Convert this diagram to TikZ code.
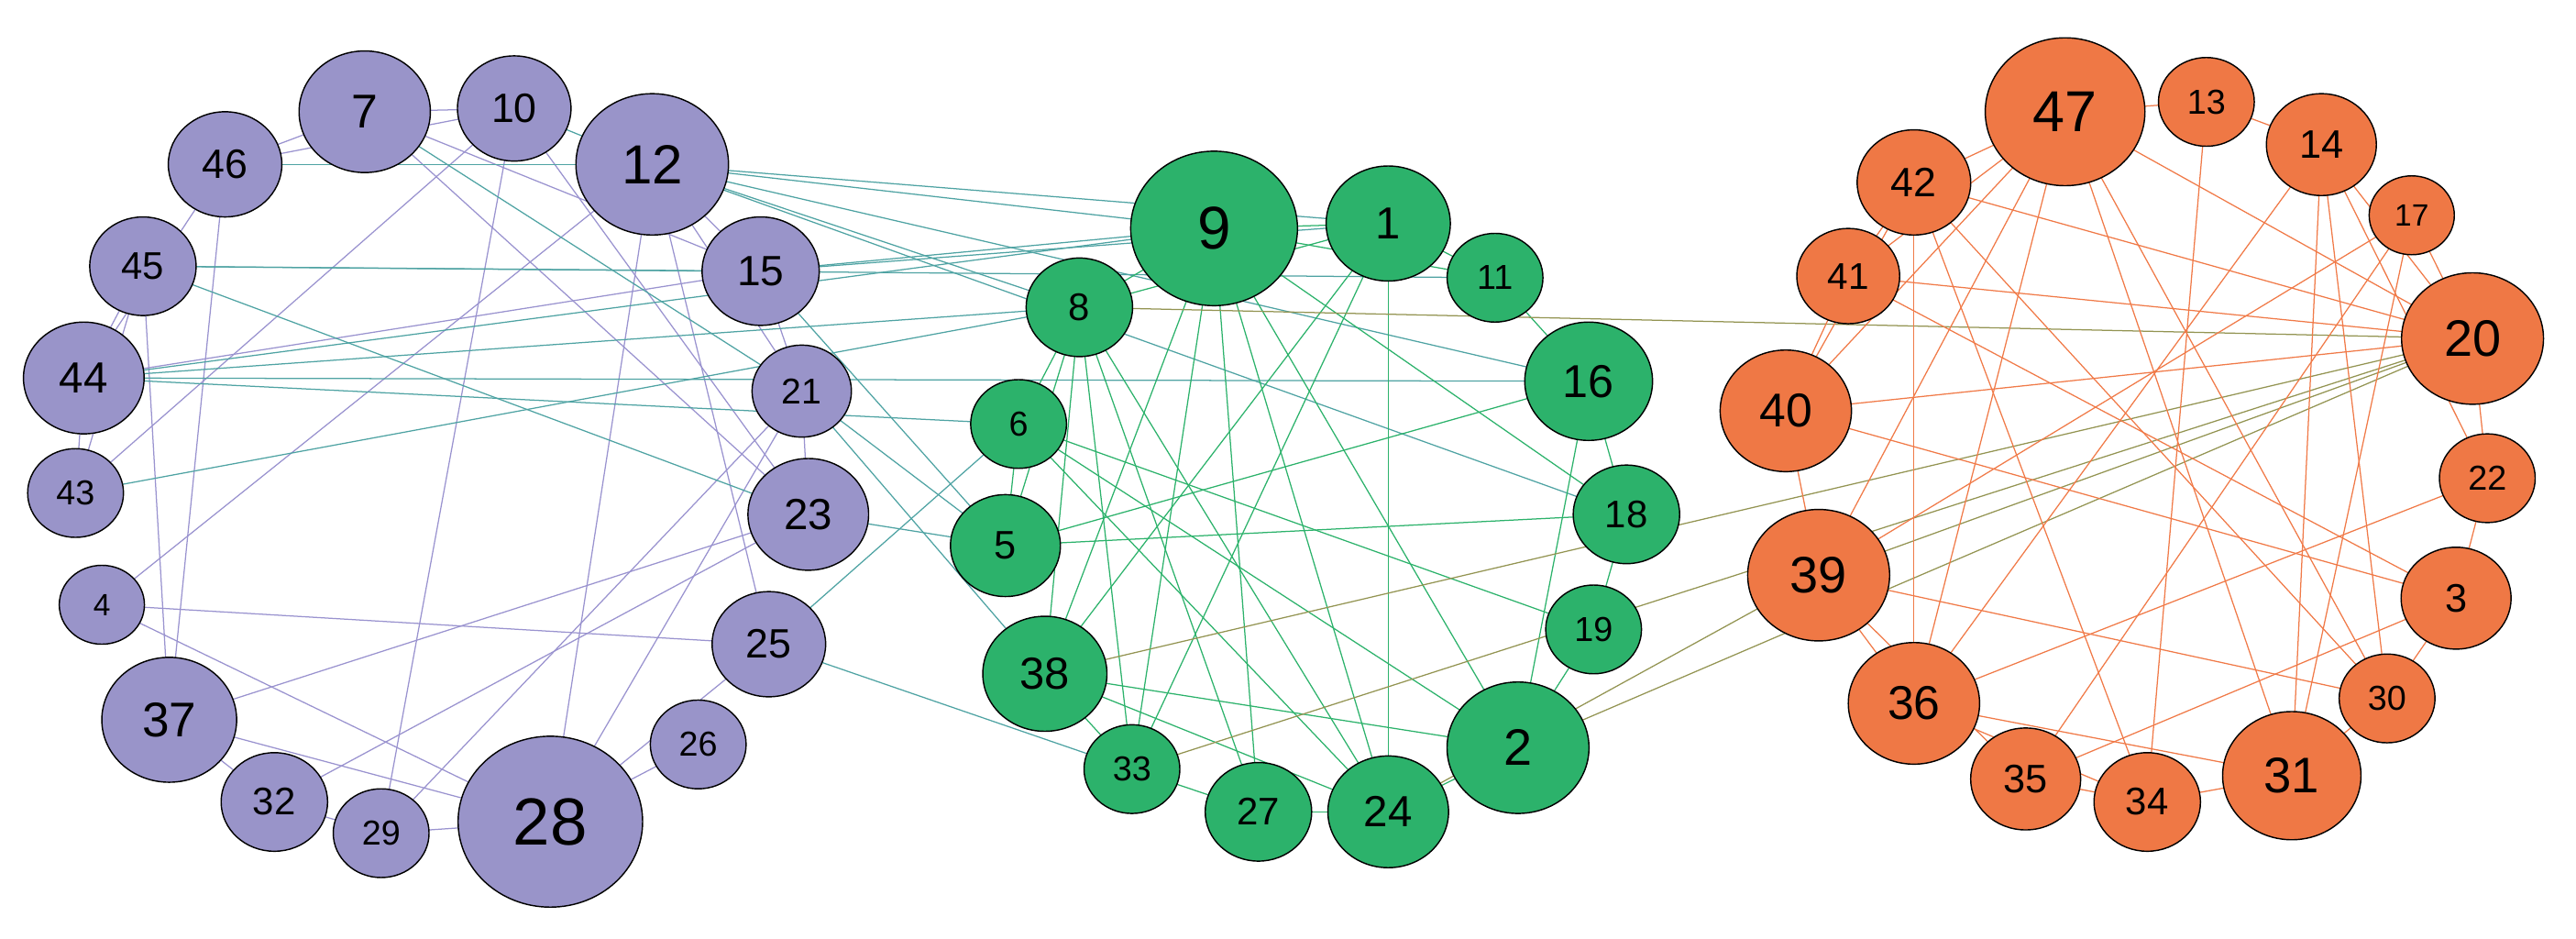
\documentclass[tikz,border=0pt]{standalone}
\usepackage{fontspec}
\setmainfont{Liberation Sans}
\usetikzlibrary{shapes.geometric,backgrounds}
\definecolor{pu}{HTML}{9994C9}
\definecolor{gr}{HTML}{2CB26B}
\definecolor{or}{HTML}{EF7845}
\definecolor{pe}{HTML}{9A93CF}
\definecolor{te}{HTML}{4FA3A3}
\definecolor{ge}{HTML}{2CB26B}
\definecolor{ol}{HTML}{939452}
\definecolor{oe}{HTML}{F07A48}
\newcommand\mynd[5]{\pgfmathsetmacro\myfs{0.78*#4}\node[ellipse,draw=black,line width=0.8pt,fill=#5,minimum width=2.16*#4pt,minimum height=2*#4pt,inner sep=0pt,font=\fontsize{\myfs pt}{#4pt}\selectfont] (n#1) at (#2,#3) {#1};}
\newcommand\eds[2]{\foreach \a/\b in {#2} \draw[#1,line width=0.7pt] (n\a.center)--(n\b.center);}
\begin{document}
\begin{tikzpicture}[x=1pt,y=-1pt]
\useasboundingbox (0,0) rectangle (1568,571);
% purple
\mynd{7}{222}{68}{37}{pu}
\mynd{10}{313}{66}{32}{pu}
\mynd{12}{397}{100}{43}{pu}
\mynd{46}{137}{100}{32}{pu}
\mynd{45}{87}{162}{30}{pu}
\mynd{15}{463}{165}{33}{pu}
\mynd{44}{51}{230}{34}{pu}
\mynd{21}{488}{238}{28}{pu}
\mynd{43}{46}{300}{27}{pu}
\mynd{23}{492}{313}{34}{pu}
\mynd{4}{62}{368}{24}{pu}
\mynd{25}{468}{392}{32}{pu}
\mynd{37}{103}{438}{38}{pu}
\mynd{26}{425}{453}{27}{pu}
\mynd{32}{167}{488}{30}{pu}
\mynd{29}{232}{507}{27}{pu}
\mynd{28}{335}{500}{52}{pu}
% green
\mynd{9}{739}{139}{47}{gr}
\mynd{1}{845}{136}{35}{gr}
\mynd{11}{910}{169}{27}{gr}
\mynd{8}{657}{187}{30}{gr}
\mynd{16}{967}{232}{36}{gr}
\mynd{6}{620}{258}{27}{gr}
\mynd{18}{990}{313}{30}{gr}
\mynd{5}{612}{332}{31}{gr}
\mynd{19}{970}{383}{27}{gr}
\mynd{38}{636}{410}{35}{gr}
\mynd{2}{924}{455}{40}{gr}
\mynd{33}{689}{468}{27}{gr}
\mynd{27}{766}{494}{30}{gr}
\mynd{24}{845}{494}{34}{gr}
% orange
\mynd{47}{1257}{68}{45}{or}
\mynd{13}{1343}{62}{27}{or}
\mynd{14}{1413}{88}{31}{or}
\mynd{42}{1165}{111}{32}{or}
\mynd{17}{1468}{131}{24}{or}
\mynd{41}{1125}{168}{29}{or}
\mynd{20}{1505}{206}{40}{or}
\mynd{40}{1087}{250}{37}{or}
\mynd{22}{1514}{291}{27}{or}
\mynd{39}{1107}{350}{40}{or}
\mynd{3}{1495}{364}{31}{or}
\mynd{30}{1453}{425}{27}{or}
\mynd{36}{1165}{428}{37}{or}
\mynd{31}{1395}{472}{39}{or}
\mynd{35}{1233}{474}{31}{or}
\mynd{34}{1307}{488}{30}{or}
\begin{pgfonlayer}{background}
\eds{pe}{7/46,7/10,10/46,7/23,10/23,10/43,10/29,12/4,12/28,12/25,12/15,46/37,46/44,45/44,45/37,44/15,43/44,43/45,4/25,4/28,37/23,37/28,37/32,32/29,32/23,29/28,28/21,28/26,28/25,15/21,21/23,21/29,12/21,7/15}
\eds{te}{12/9,12/1,12/16,12/8,7/21,10/12,46/12,45/11,45/23,44/9,44/16,44/6,43/8,15/9,15/1,15/5,21/5,21/38,23/5,25/6,25/33,12/18,44/8,45/15}
\eds{ge}{9/1,9/8,9/11,9/38,9/33,9/27,9/24,9/2,9/18,1/11,1/8,1/38,1/33,1/24,11/16,16/18,16/5,16/2,18/5,18/19,19/6,19/2,6/2,8/38,8/33,8/27,8/24,8/5,38/2,38/24,38/33,33/27,27/24,24/2,6/8,5/6,6/24}
\eds{ol}{8/20,38/20,33/20,2/20,24/39,39/20}
\eds{oe}{47/42,47/13,47/41,47/40,47/39,47/36,47/20,47/31,47/30,13/14,13/34,14/30,14/31,14/36,14/20,17/39,17/35,17/31,42/41,42/40,42/20,42/30,42/34,42/36,41/20,41/40,41/3,40/20,40/39,40/3,39/36,39/35,39/30,36/22,36/34,36/31,35/34,35/3,34/31,31/30,30/3,3/22,22/20,14/22,20/17}
\end{pgfonlayer}
\end{tikzpicture}
\end{document}
